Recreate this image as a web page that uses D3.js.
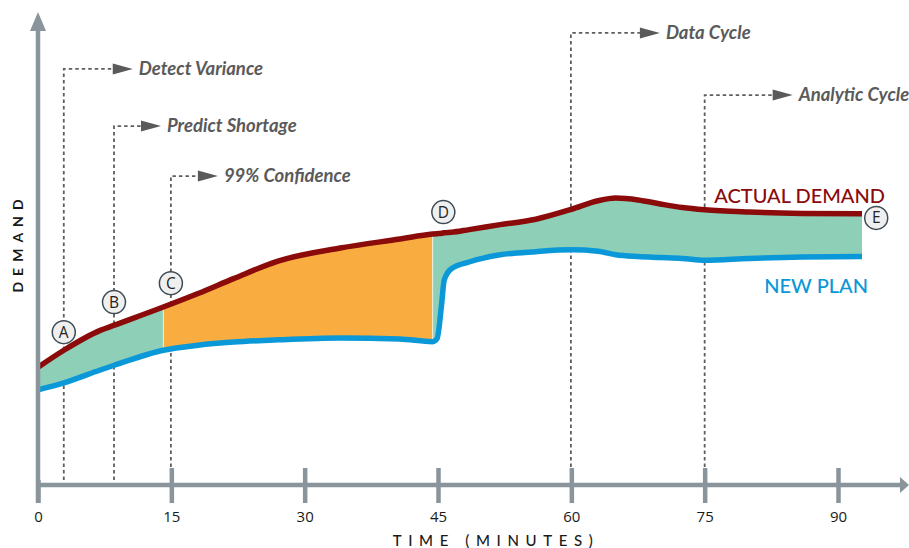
<!DOCTYPE html>
<html lang="en">
<head>
<meta charset="UTF-8">
<title>demand vs plan</title>
<script src="https://d3js.org/d3.v7.min.js"></script>
<style>
    body { margin: 0; background: #fff; }
    .callout { font-family: Lato, "Open Sans", sans-serif; font-style: italic; font-weight: 700; font-size: 18.5px; fill: #5a5a5a; }
    .series-label { font-family: Lato, "Open Sans", sans-serif; font-size: 20px; font-weight: 500; }
    .axis-title { font-family: Lato, "Open Sans", sans-serif; font-size: 15px; fill: #1a1a1a; }
    .tick-label { font-family: "Liberation Sans Narrow", "Open Sans", sans-serif; font-size: 15px; fill: #1a1a1a; }
    .marker text { font-family: "Open Sans", Lato, sans-serif; font-size: 15.5px; fill: #222; }
</style>
</head>
<body>
<svg id="chart" width="909" height="548"></svg>
<script>
    // time in minutes, demand in arbitrary units (0..100)
    const times        = [0, 3, 7, 8.5, 14.1, 18, 22, 27, 34, 40.7, 44.4, 44.9, 45.4, 45.7, 46.5, 48.5, 52, 56, 60, 63, 65, 67.5, 70, 72.5, 75, 80, 86, 92.7];
    const actualDemand = [26.6, 30.5, 34.8, 35.9, 40.0, 43.0, 46.3, 50.2, 53.1, 55.1, 56.2, 56.3, 56.4, 56.5, 56.6, 57.2, 58.3, 59.5, 61.7, 63.6, 64.2, 63.8, 62.9, 62.1, 61.6, 61.1, 60.8, 60.7];
    const newPlan      = [21.6, 23.2, 26.0, 27.0, 30.4, 31.5, 32.2, 32.7, 33.1, 32.9, 32.3, 33.0, 40.5, 46.0, 48.5, 50.0, 51.6, 52.3, 52.7, 52.4, 51.6, 51.2, 51.0, 50.8, 50.4, 50.8, 51.1, 51.2];

    // orange "gap" window (minutes)
    const gapStart = 14.1, gapEnd = 44.4;

    const tickValues = [0, 15, 30, 45, 60, 75, 90];

    const calloutLabels = ["Detect Variance", "Predict Shortage", "99% Confidence", "Data Cycle", "Analytic Cycle"];
    const calloutTimes  = [2.9, 8.55, 14.95, 59.95, 75];
    const calloutLevels = [92.9, 80.2, 69.1, 100.9, 87.1];

    const markerLabels = ["A", "B", "C", "D", "E"];
    const markerTimes  = [2.9, 8.55, 14.95, 45.6, 94.3];
    const markerLevels = [34.4, 41.1, 45.3, 61.1, 59.8];

    // layout
    const svg = d3.select("#chart");
    const x = d3.scaleLinear().domain([0, 90]).range([38, 838]);
    const y = d3.scaleLinear().domain([0, 100]).range([487, 37]);
    const axisY = 485, axisColor = "#89959b";
    const calloutLead = [49, 27, 27, 69, 68];

    const rows = times.map((t, i) => ({t: t, a: actualDemand[i], p: newPlan[i]}));

    // dotted callout lines (behind everything)
    const dotted = svg.append("g");
    calloutLabels.forEach((lab, i) => {
        const cx = x(calloutTimes[i]), cy = y(calloutLevels[i]);
        const ax = cx + calloutLead[i];
        dotted.append("path")
            .attr("d", `M${cx},480 V${cy} H${ax}`)
            .attr("fill", "none")
            .attr("stroke", "#5e5e5e")
            .attr("stroke-width", 1.8)
            .attr("stroke-dasharray", "3.5,3");
        dotted.append("path")
            .attr("d", `M${ax},${cy - 5.5} L${ax + 20},${cy} L${ax},${cy + 5.5} Z`)
            .attr("fill", "#5a5a5a");
        dotted.append("text")
            .attr("class", "callout")
            .attr("x", ax + 26)
            .attr("y", cy + 6)
            .text(lab);
    });

    // band between the two curves
    const curve = d3.curveMonotoneX;
    const band = d3.area()
        .x(d => x(d.t))
        .y0(d => y(d.p))
        .y1(d => y(d.a))
        .curve(curve);

    svg.append("defs").append("clipPath").attr("id", "gap")
        .append("rect")
        .attr("x", x(gapStart)).attr("y", 0)
        .attr("width", x(gapEnd) - x(gapStart)).attr("height", 548);

    svg.append("path").datum(rows).attr("d", band).attr("fill", "#8ecfb8");
    svg.append("path").datum(rows).attr("d", band).attr("fill", "#f9ad40").attr("clip-path", "url(#gap)");
    [gapStart, gapEnd].forEach(t => {
        svg.append("line")
            .attr("x1", x(t)).attr("x2", x(t))
            .attr("y1", y(newPlan[times.indexOf(t)])).attr("y2", y(actualDemand[times.indexOf(t)]))
            .attr("stroke", "#eef3e6").attr("stroke-width", 1);
    });

    // curves
    svg.append("path").datum(rows)
        .attr("d", d3.line().x(d => x(d.t)).y(d => y(d.p)).curve(curve))
        .attr("fill", "none").attr("stroke", "#0a98d8").attr("stroke-width", 5.5);
    svg.append("path").datum(rows)
        .attr("d", d3.line().x(d => x(d.t)).y(d => y(d.a)).curve(curve))
        .attr("fill", "none").attr("stroke", "#8b0a0a").attr("stroke-width", 5.5);

    // axes
    const xAxis = svg.append("g").attr("transform", `translate(0,${axisY})`)
        .call(d3.axisBottom(x).tickValues(tickValues).tickSize(0).tickFormat(""));
    xAxis.select(".domain").remove();
    xAxis.append("line").attr("x1", 38).attr("x2", 902).attr("stroke", axisColor).attr("stroke-width", 4.5);
    xAxis.append("path").attr("d", "M900,-8 L909,0 L900,8 Z").attr("fill", axisColor);
    xAxis.selectAll(".tick line")
        .attr("y1", d => d === 0 ? -5 : -17).attr("y2", 18)
        .attr("stroke", axisColor).attr("stroke-width", 4.5);
    xAxis.selectAll(".tick").append("text")
        .attr("class", "tick-label")
        .attr("y", 37).attr("text-anchor", "middle")
        .text(d => d);

    svg.append("line").attr("x1", 38).attr("x2", 38).attr("y1", 503).attr("y2", 26)
        .attr("stroke", axisColor).attr("stroke-width", 4.5);
    svg.append("path").attr("d", "M30,31 L38,12 L46,31 Z").attr("fill", axisColor);

    svg.append("text").attr("class", "axis-title")
        .attr("x", 496).attr("y", 546).attr("text-anchor", "middle")
        .attr("letter-spacing", 6.6).attr("font-weight", 500)
        .text("TIME (MINUTES)");
    svg.append("text").attr("class", "axis-title")
        .attr("transform", "translate(23,243) rotate(-90)")
        .attr("text-anchor", "middle").attr("letter-spacing", 6)
        .attr("font-weight", 700).style("font-size", "14px")
        .text("DEMAND");

    // series labels
    svg.append("text").attr("class", "series-label")
        .attr("x", 885).attr("y", 203).attr("text-anchor", "end")
        .attr("fill", "#8b0a0a").text("ACTUAL DEMAND");
    svg.append("text").attr("class", "series-label")
        .attr("x", 868).attr("y", 293).attr("text-anchor", "end")
        .attr("fill", "#0a98d8").text("NEW PLAN");

    // lettered markers
    const markers = svg.selectAll(".marker")
        .data(markerLabels)
        .join("g")
        .attr("class", "marker")
        .attr("transform", (d, i) => `translate(${x(markerTimes[i])},${y(markerLevels[i])})`);
    markers.append("circle").attr("r", 11.5)
        .attr("fill", "#efefef").attr("stroke", "#3e4c56").attr("stroke-width", 1.5);
    markers.append("text").attr("text-anchor", "middle").attr("dy", "0.36em").text(d => d);
</script>
</body>
</html>
